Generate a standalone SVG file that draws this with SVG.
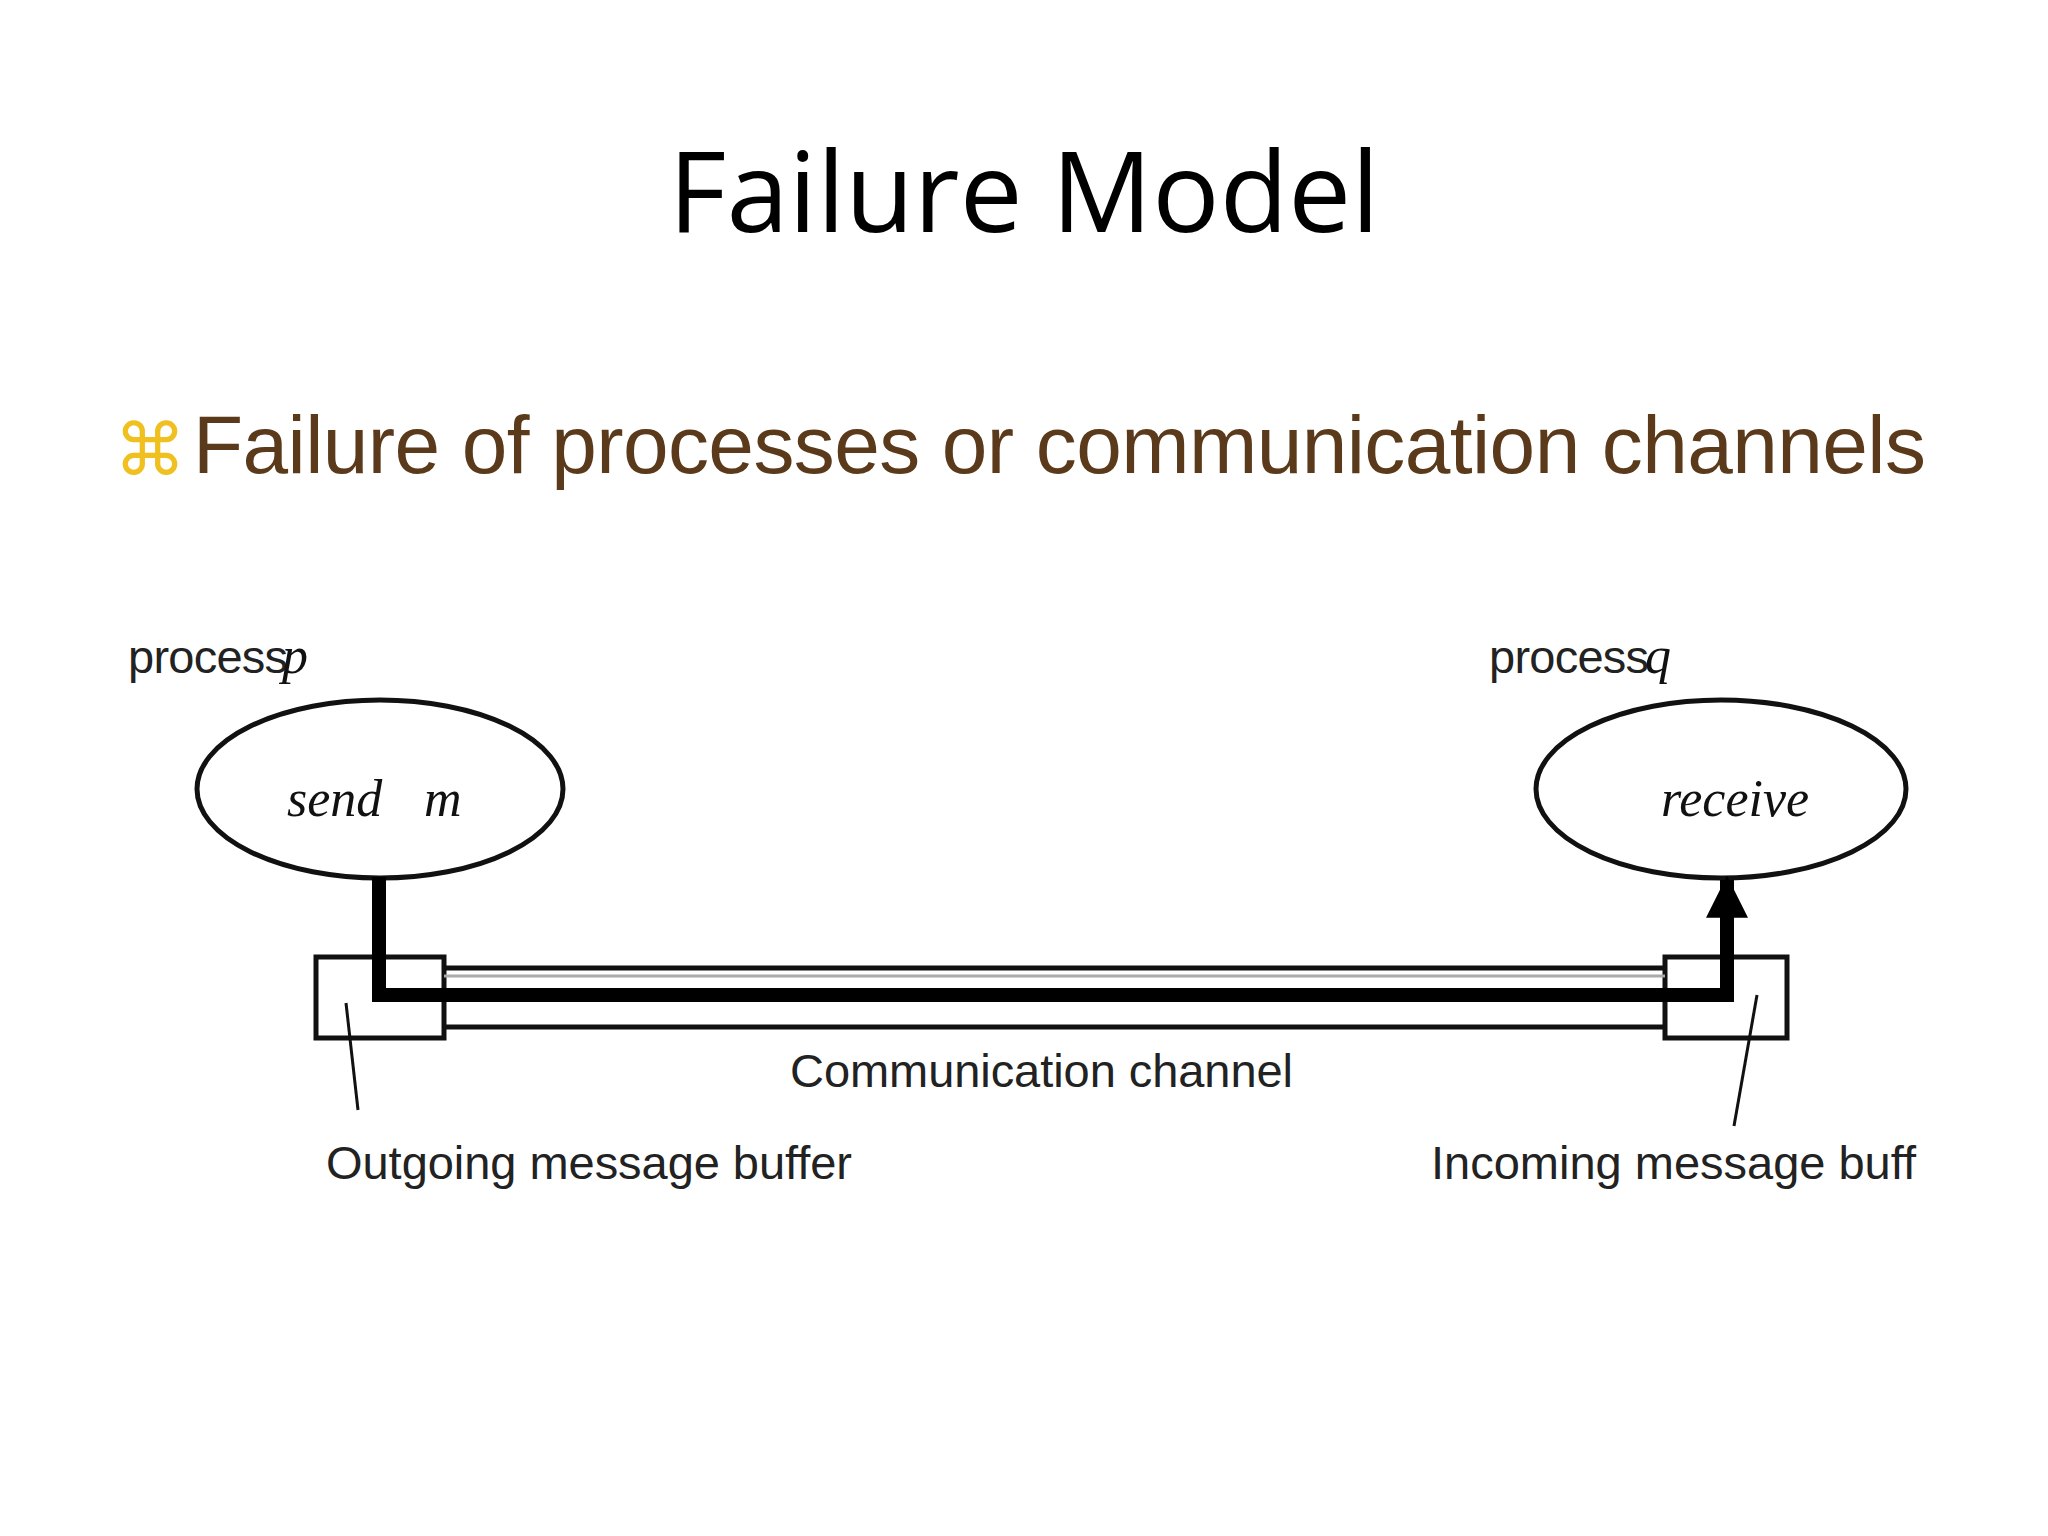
<svg xmlns="http://www.w3.org/2000/svg" width="2048" height="1536" viewBox="0 0 2048 1536">
<defs>
<style>
.lbl{font-family:"Liberation Sans",Arial,sans-serif;font-size:47px;fill:#222}
.it{font-family:"Liberation Serif","Times New Roman",serif;font-style:italic;font-size:52px;fill:#111}
.thin{stroke:#111;stroke-width:5;fill:none}
.thick{stroke:#000;stroke-width:14;fill:none}
</style>
<marker id="ah" viewBox="0 0 10 10" refX="9" refY="5" markerWidth="3" markerHeight="3" orient="auto"><path d="M0,0L10,5L0,10z" fill="#000"/></marker>
</defs>
<rect width="2048" height="1536" fill="#fff"/>
<text x="1024" y="232" text-anchor="middle" font-family="Open Sans,Liberation Sans,sans-serif" font-size="112" fill="#000">Failure Model</text>
<text x="114" y="475" font-family="DejaVu Sans,sans-serif" font-size="72" fill="#f0c020">⌘</text>
<text x="193" y="473" font-family="Liberation Sans,Arial,sans-serif" font-size="82" fill="#5a3a1a" textLength="1733">Failure of processes or communication channels</text>
<g id="p">
<text class="lbl" x="128" y="673" textLength="160">process</text><text class="it" x="282" y="673" font-size="48">p</text>
<ellipse cx="380" cy="789" rx="183" ry="89" class="thin" stroke-width="4"/>
<text class="it" x="287" y="816">send</text><text class="it" x="424" y="816">m</text>
</g>
<g id="q">
<text class="lbl" x="1489" y="673" textLength="160">process</text><text class="it" x="1645" y="673" font-size="48">q</text>
<ellipse cx="1721" cy="789" rx="185" ry="89" class="thin" stroke-width="4"/>
<text class="it" x="1735" y="816" text-anchor="middle">receive</text>
</g>
<g id="outbuf"><rect x="316" y="957" width="128" height="81" class="thin" stroke-width="7"/></g>
<g id="inbuf"><rect x="1665" y="957" width="122" height="81" class="thin" stroke-width="7"/></g>
<g id="connectors">
<line x1="444" y1="968" x2="1665" y2="968" class="thin"/>
<line x1="444" y1="976" x2="1665" y2="976" stroke="#aaa" stroke-width="3"/>
<line x1="444" y1="1027" x2="1665" y2="1027" class="thin"/>
<polyline points="379,877 379,995 1727,995 1727,880" class="thick" marker-end="url(#ah)"/>
<line x1="346" y1="1003" x2="358" y2="1110" stroke="#111" stroke-width="3"/>
<line x1="1757" y1="995" x2="1734" y2="1126" stroke="#111" stroke-width="3"/>
</g>
<text class="lbl" x="790" y="1087" textLength="503">Communication channel</text>
<text class="lbl" x="326" y="1179" textLength="526">Outgoing message buffer</text>
<text class="lbl" x="1431" y="1179" textLength="485">Incoming message buff</text>
</svg>
